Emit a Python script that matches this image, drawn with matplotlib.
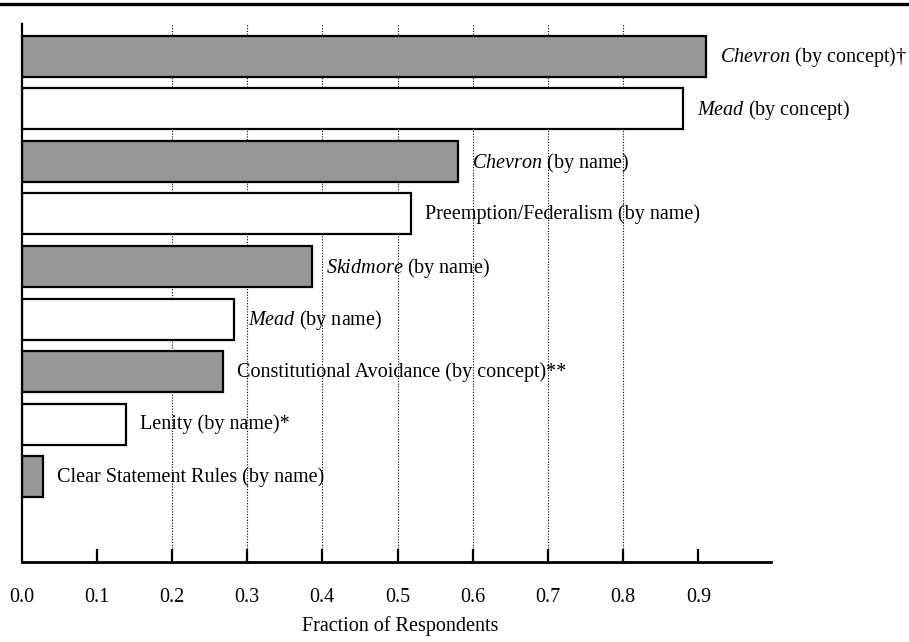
import matplotlib
matplotlib.use("Agg")
import matplotlib.pyplot as plt
from matplotlib.lines import Line2D

# values (fraction of respondents)
case_names = ["Chevron", "Mead", "Chevron", "", "Skidmore", "Mead", "", "", ""]
label_rest = [
    " (by concept)\u2020",
    " (by concept)",
    " (by name)",
    "Preemption/Federalism (by name)",
    " (by name)",
    " (by name)",
    "Constitutional Avoidance (by concept)**",
    "Lenity (by name)*",
    "Clear Statement Rules (by name)",
]
fractions = [0.910, 0.880, 0.580, 0.518, 0.386, 0.283, 0.268, 0.139, 0.029]
shaded = [True, False, True, False, True, False, True, False, True]
tick_values = [0.0, 0.1, 0.2, 0.3, 0.4, 0.5, 0.6, 0.7, 0.8, 0.9]
grid_values = [0.2, 0.3, 0.4, 0.5, 0.6, 0.7, 0.8]

plt.rcParams["font.family"] = ["Liberation Serif", "DejaVu Serif"]
plt.rcParams["mathtext.fontset"] = "custom"
plt.rcParams["mathtext.rm"] = "Liberation Serif"
plt.rcParams["mathtext.it"] = "Liberation Serif:italic"

W, H = 909, 642
fig = plt.figure(figsize=(W / 100, H / 100), dpi=100)
ax = fig.add_axes([21.5 / W, 1 - 562 / H, 1 - 21.5 / W, (562 - 24) / H])

ypos = list(range(len(fractions)))
colors = ["#979797" if s else "white" for s in shaded]
ax.barh(ypos, fractions, height=0.78, color=colors, edgecolor="black",
        linewidth=1.6, zorder=2)

for g in grid_values:
    ax.axvline(g, color="black", linestyle=(0, (1, 1.5)), linewidth=0.8, zorder=1)

for y, v, case, rest in zip(ypos, fractions, case_names, label_rest):
    text = (r"$\mathit{%s}$" % case + rest) if case else rest
    ax.annotate(text, xy=(v, y), xytext=(10, 1.5), textcoords="offset points",
                va="center_baseline", ha="left", fontsize=14.5, zorder=3)

ax.set_xlim(0, 1.18)
ax.set_ylim(9.62, -0.61)

for side in ["top", "right"]:
    ax.spines[side].set_visible(False)
ax.spines["left"].set_linewidth(1.6)
ax.spines["bottom"].set_linewidth(2.0)
ax.spines["bottom"].set_bounds(0, 0.997)

ax.set_yticks([])
ax.set_xticks(tick_values)
ax.set_xticklabels([f"{t:.1f}" for t in tick_values], fontsize=14.5)
ax.tick_params(axis="x", direction="in", length=9.5, width=1.6, pad=19)
ax.xaxis.get_major_ticks()[0].tick1line.set_visible(False)

fig.text(400 / W, 1 - 626 / H, "Fraction of Respondents", ha="center",
         va="center", fontsize=14.5)

# page rule at the very top
fig.add_artist(Line2D([0, 1], [1 - 4 / H, 1 - 4 / H], color="black",
                      linewidth=2.4, transform=fig.transFigure))

fig.savefig("out.png", dpi=100)
